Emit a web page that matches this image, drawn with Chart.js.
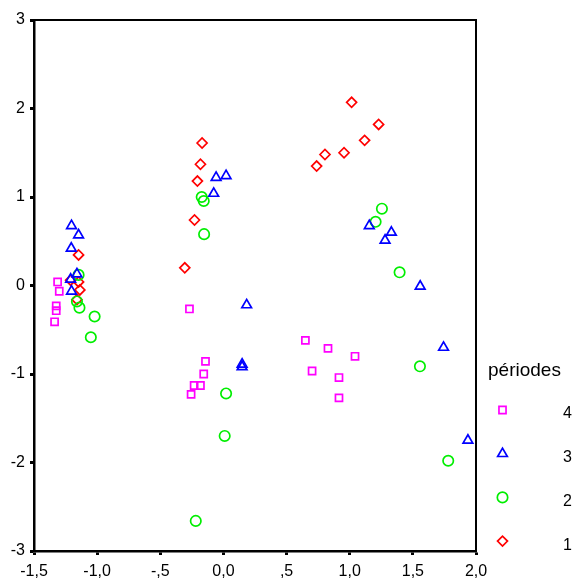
<!DOCTYPE html>
<html>
<head>
<meta charset="utf-8">
<script src="https://cdn.jsdelivr.net/npm/chart.js@4/dist/chart.umd.min.js"></script>
<style>
  html, body { margin: 0; padding: 0; background: #fff; }
  #wrap { width: 575px; height: 580px; position: relative; }
</style>
</head>
<body>
<div id="wrap"><canvas id="chart"></canvas></div>
<script>
// périodes 1..4, values
var period1X = [-1.147, -1.21, -1.147, -1.137, -1.16, -0.306, -0.169, -0.182, -0.206, -0.229, 1.015, 1.229, 1.118, 0.955, 0.804, 0.738];
var period1Y = [0.345, 0.06, 0.04, -0.05, -0.16, 0.20, 1.61, 1.37, 1.18, 0.74, 2.07, 1.82, 1.64, 1.50, 1.48, 1.35];

var period2X = [-1.147, -1.16, -1.14, -1.02, -1.05, -0.172, -0.156, -0.153, 0.021, 0.01, -0.219, 1.255, 1.205, 1.395, 1.556, 1.78];
var period2Y = [0.12, -0.18, -0.25, -0.35, -0.585, 1.00, 0.955, 0.58, -1.22, -1.70, -2.66, 0.868, 0.72, 0.149, -0.913, -1.98];

var period3X = [-1.203, -1.147, -1.205, -1.16, -1.21, -1.203, -0.058, 0.021, -0.077, 0.184, 0.148, 0.148, 1.155, 1.33, 1.28, 1.558, 1.743, 1.936];
var period3Y = [0.675, 0.57, 0.42, 0.13, 0.07, -0.065, 1.22, 1.24, 1.04, -0.22, -0.89, -0.92, 0.675, 0.60, 0.51, -0.01, -0.70, -1.75];

var period4X = [-1.313, -1.30, -1.324, -1.324, -1.337, -0.269, -0.142, -0.156, -0.182, -0.232, -0.256, 0.649, 0.828, 1.042, 0.702, 0.915, 0.915];
var period4Y = [0.04, -0.065, -0.23, -0.285, -0.41, -0.265, -0.857, -1.00, -1.13, -1.13, -1.23, -0.62, -0.71, -0.80, -0.966, -1.04, -1.27];

var xTickLabels = ['-1,5', '-1,0', '-,5', '0,0', ',5', '1,0', '1,5', '2,0'];
var yTickLabels = ['-3', '-2', '-1', '0', '1', '2', '3'];
var legendTitle = 'périodes';
var seriesLabels = ['4', '3', '2', '1'];

function pts(xs, ys) {
    return xs.map(function (x, i) { return { x: x, y: ys[i] }; });
}

var FONT = '"Liberation Sans", Arial, sans-serif';

var frame = {
    id: 'frame',
    afterDraw: function (chart) {
        var a = chart.chartArea, ctx = chart.ctx;
        ctx.save();
        ctx.strokeStyle = '#000';
        ctx.lineWidth = 2;
        ctx.beginPath();
        ctx.moveTo(a.left, a.top);
        ctx.lineTo(a.right, a.top);
        ctx.lineTo(a.right, a.bottom);
        ctx.stroke();
        ctx.restore();
    }
};

// legend drawn to the right, marker and label far apart as in the original
var sideLegend = {
    id: 'sideLegend',
    afterDraw: function (chart) {
        var a = chart.chartArea, ctx = chart.ctx;
        ctx.save();
        ctx.fillStyle = '#000';
        ctx.font = '19px ' + FONT;
        ctx.textBaseline = 'alphabetic';
        ctx.textAlign = 'left';
        ctx.fillText(legendTitle, a.right + 12, a.bottom - 175);
        ctx.font = '16px ' + FONT;
        ctx.textBaseline = 'middle';
        chart.data.datasets.forEach(function (ds, i) {
            var y = a.bottom - 141 + i * 43.7;
            ctx.strokeStyle = ds.borderColor;
            ctx.fillStyle = 'rgba(0,0,0,0)';
            ctx.lineWidth = ds.borderWidth;
            Chart.helpers.drawPoint(ctx, {
                pointStyle: ds.pointStyle, radius: ds.pointRadius, rotation: 0, borderWidth: ds.borderWidth
            }, a.right + 26.5, y);
            ctx.fillStyle = '#000';
            ctx.fillText(seriesLabels[i], a.right + 87, y + 4);
        });
        ctx.restore();
    }
};

var ctx = document.getElementById('chart').getContext('2d');
new Chart(ctx, {
    type: 'scatter',
    data: {
        datasets: [
            { label: '4', data: pts(period4X, period4Y), pointStyle: 'rect', pointRadius: 5, borderColor: '#ff00ff', backgroundColor: 'rgba(0,0,0,0)', borderWidth: 1.7 },
            { label: '3', data: pts(period3X, period3Y), pointStyle: 'triangle', pointRadius: 5.6, borderColor: '#0000ff', backgroundColor: 'rgba(0,0,0,0)', borderWidth: 1.7 },
            { label: '2', data: pts(period2X, period2Y), pointStyle: 'circle', pointRadius: 5.2, borderColor: '#00ee00', backgroundColor: 'rgba(0,0,0,0)', borderWidth: 1.7 },
            { label: '1', data: pts(period1X, period1Y), pointStyle: 'rectRot', pointRadius: 5, borderColor: '#ff0000', backgroundColor: 'rgba(0,0,0,0)', borderWidth: 1.7 }
        ]
    },
    options: {
        responsive: true,
        maintainAspectRatio: false,
        animation: false,
        events: [],
        layout: { padding: { top: 20, right: 99, left: 0, bottom: 0 } },
        plugins: { legend: { display: false }, tooltip: { enabled: false } },
        scales: {
            x: {
                type: 'linear', min: -1.5, max: 2,
                afterFit: function (s) { s.height = 29; },
                border: { color: '#000', width: 2.5 },
                grid: { drawOnChartArea: false, drawTicks: true, tickLength: 4, tickWidth: 3, tickColor: '#000' },
                ticks: {
                    stepSize: 0.5, color: '#000', padding: 7, font: { family: FONT, size: 16 },
                    callback: function (v, i) { return xTickLabels[i]; }
                }
            },
            y: {
                type: 'linear', min: -3, max: 3,
                afterFit: function (s) { s.width = 34; },
                border: { color: '#000', width: 2.5 },
                grid: { drawOnChartArea: false, drawTicks: true, tickLength: 4, tickWidth: 3, tickColor: '#000' },
                ticks: {
                    stepSize: 1, color: '#000', padding: 5, font: { family: FONT, size: 16 },
                    callback: function (v, i) { return yTickLabels[i]; }
                }
            }
        }
    },
    plugins: [frame, sideLegend]
});
</script>
</body>
</html>
